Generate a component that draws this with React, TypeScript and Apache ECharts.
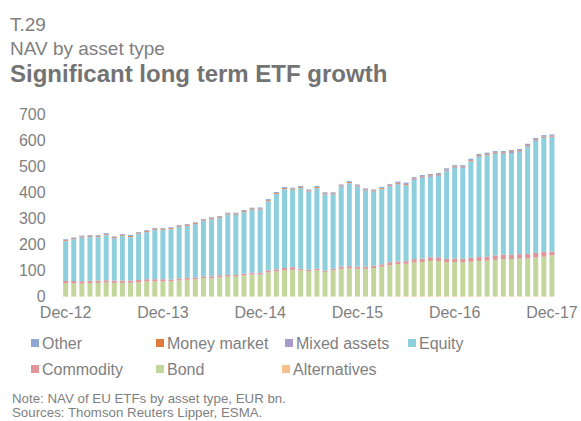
import React, { useEffect, useRef } from "react";
import * as echarts from "echarts";

const MONTHS = ["Jan", "Feb", "Mar", "Apr", "May", "Jun", "Jul", "Aug", "Sep", "Oct", "Nov", "Dec"];
const categories: string[] = ["Dec-12"];
for (let y = 13; y <= 17; y++) {
  for (const m of MONTHS) categories.push(`${m}-${y}`);
}

const alternatives = [
  1, 1, 1, 1, 1, 1, 1, 1, 1, 1, 1, 1, 1, 1, 1, 1, 1, 1, 1, 1, 1,
  1, 1, 1, 1, 1, 1, 1, 1, 1, 1, 1, 1, 1, 1, 1, 1, 1, 1, 1,
  2, 2, 2, 2, 2, 2, 2, 2, 2, 2, 2, 2, 2, 2, 2, 2, 2, 2, 2, 2, 2,
];
const bond = [
  50, 50, 49, 51, 52, 53, 52, 52, 52, 54, 57, 57, 57, 58, 61, 64, 66, 70, 70, 74, 76,
  76, 80, 84, 84, 92, 96, 100, 102, 100, 97, 100, 94, 100, 106, 107, 106, 106, 109, 114,
  119, 123, 124, 129, 131, 135, 135, 130, 131, 130, 132, 135, 136, 139, 142, 142, 144, 144, 148, 151, 156,
];
const commodity = [
  9, 9, 9, 9, 9, 9, 9, 9, 9, 9, 9, 9, 9, 7, 7, 7, 7, 7, 7, 7, 7,
  7, 7, 7, 7, 8, 8, 9, 10, 6, 5, 6, 5, 6, 9, 9, 8, 8, 9, 9,
  11, 10, 10, 13, 13, 14, 14, 13, 13, 13, 15, 15, 15, 17, 17, 17, 17, 18, 18, 19, 15,
];
const equity = [
  152, 159, 167, 167, 166, 173, 161, 170, 166, 176, 180, 188, 188, 192, 198, 198, 203, 212, 218, 219, 230,
  229, 235, 240, 241, 264, 287, 301, 296, 308, 299, 308, 291, 284, 305, 317, 306, 291, 283, 288,
  290, 295, 290, 303, 309, 308, 312, 336, 347, 348, 369, 384, 388, 389, 386, 390, 392, 411, 429, 436, 438,
];
const mixedAssets = [
  2, 2, 2, 2, 2, 2, 2, 2, 2, 2, 2, 2, 2, 2, 2, 2, 2, 2, 2, 2, 2,
  2, 2, 2, 2, 2, 2, 2, 2, 2, 2, 2, 2, 2, 2, 2, 2, 2, 2, 2,
  2, 3, 3, 3, 3, 3, 3, 3, 3, 3, 3, 3, 3, 3, 3, 3, 3, 3, 3, 3, 3,
];
const moneyMarket = [
  3, 3, 3, 3, 3, 3, 3, 3, 3, 3, 3, 3, 3, 3, 3, 3, 3, 3, 3, 3, 3,
  3, 3, 3, 3, 3, 3, 3, 3, 3, 3, 3, 3, 3, 3, 3, 3, 3, 3, 3,
  3, 3, 3, 3, 3, 3, 3, 3, 3, 3, 3, 3, 3, 3, 3, 3, 3, 3, 3, 3, 3,
];
const other = [
  3, 3, 3, 3, 3, 3, 3, 3, 3, 3, 3, 3, 3, 3, 3, 3, 3, 3, 3, 3, 3,
  4, 4, 4, 4, 4, 4, 4, 4, 4, 4, 4, 4, 4, 4, 4, 4, 4, 4, 4,
  4, 5, 5, 5, 5, 5, 5, 5, 5, 5, 5, 5, 5, 5, 5, 5, 5, 5, 5, 5, 5,
];

const yTicks = { min: 0, max: 700, interval: 100 };

const COLORS: Record<string, string> = {
  Other: "#8FA8D3",
  "Money market": "#E07B39",
  "Mixed assets": "#A89BC9",
  Equity: "#8ECFDD",
  Commodity: "#E09698",
  Bond: "#C3D69B",
  Alternatives: "#F8BF8E",
};

const GRAY = "#7F7F7F";
const FONT = "'Liberation Sans', Arial, sans-serif";

export default function App() {
  const ref = useRef<HTMLDivElement>(null);
  useEffect(() => {
    if (!ref.current) return;
    const chart = echarts.init(ref.current, undefined, { renderer: "svg" });
    const stackOrder: [string, number[]][] = [
      ["Alternatives", alternatives],
      ["Bond", bond],
      ["Commodity", commodity],
      ["Equity", equity],
      ["Mixed assets", mixedAssets],
      ["Money market", moneyMarket],
      ["Other", other],
    ];
    const legendPos: [string, number, number][] = [
      ["Other", 31, 335],
      ["Money market", 156, 335],
      ["Mixed assets", 285, 335],
      ["Equity", 408, 335],
      ["Commodity", 31, 361],
      ["Bond", 156, 361],
      ["Alternatives", 282, 361],
    ];
    const t = (text: string, top: number, size: number, bold = false, left = 10, color = GRAY) => ({
      text,
      left,
      top,
      padding: 0,
      textStyle: { fontSize: size, fontWeight: bold ? "bold" : "normal", color, fontFamily: FONT },
    });
    chart.setOption({
      animation: false,
      textStyle: { fontFamily: FONT },
      title: [
        t("T.29", 15, 19),
        t("NAV by asset type", 39, 19),
        t("Significant long term ETF growth", 61, 24, true, 10, "#737373"),
        t("Note: NAV of EU ETFs by asset type, EUR bn.", 392, 13.3, false, 12),
        t("Sources: Thomson Reuters Lipper, ESMA.", 406, 13.3, false, 12),
      ],
      legend: legendPos.map(([name, x, y]) => ({
        data: [name],
        left: x,
        top: y,
        padding: 0,
        itemWidth: 8,
        itemHeight: 8,
        icon: "rect",
        selectedMode: false,
        textStyle: { fontSize: 16, color: GRAY, fontFamily: FONT, padding: [0, 0, 0, -2] },
      })),
      grid: { left: 61.6, right: 25, top: 114, height: 182.7, containLabel: false },
      xAxis: {
        type: "category",
        data: categories,
        boundaryGap: true,
        axisLine: { show: false },
        axisTick: { show: false },
        axisLabel: { interval: 11, fontSize: 16, color: GRAY, margin: 8, fontFamily: FONT },
      },
      yAxis: {
        type: "value",
        min: yTicks.min,
        max: yTicks.max,
        interval: yTicks.interval,
        axisLine: { show: false },
        axisTick: { show: false },
        splitLine: { show: false },
        axisLabel: { fontSize: 16, color: GRAY, margin: 16, fontFamily: FONT },
      },
      series: stackOrder.map(([name, data]) => ({
        name,
        type: "bar",
        stack: "nav",
        data,
        barWidth: 5,
        itemStyle: { color: COLORS[name] },
      })),
    });
    return () => chart.dispose();
  }, []);
  return <div ref={ref} style={{ position: "fixed", left: 0, top: 0, width: 581, height: 421, background: "#fff" }} />;
}
